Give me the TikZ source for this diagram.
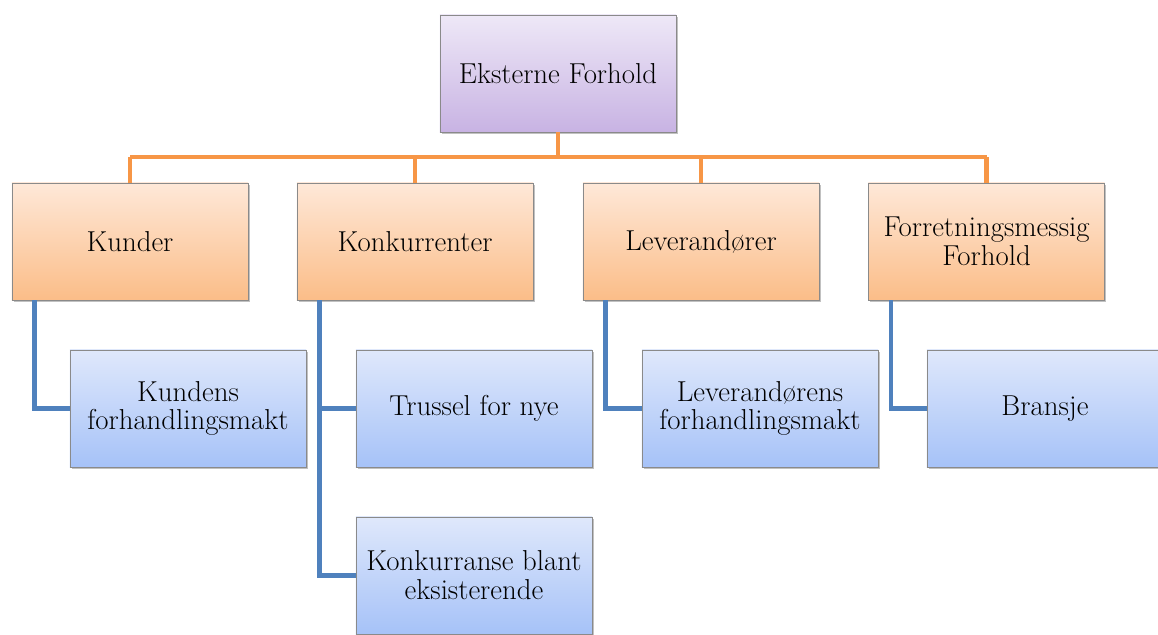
\documentclass[tikz,border=0pt]{standalone}
\usepackage{xcolor}
\usepackage{tikz}
\usetikzlibrary{shapes,positioning,shadows,calc}

\definecolor{lilatop}{HTML}{EEE8F7}
\definecolor{lilabot}{HTML}{C8B3E3}
\definecolor{orangetop}{HTML}{FEE8D8}
\definecolor{orangebot}{HTML}{FBBD88}
\definecolor{bluetop}{HTML}{DFE8FB}
\definecolor{bluebot}{HTML}{A6C2F8}
\definecolor{orangeline}{HTML}{F79646}
\definecolor{blueline}{HTML}{4F81BD}
\definecolor{boxedge}{HTML}{8A8A8A}

\tikzset{
  box/.style={draw=boxedge,line width=0.6pt,rectangle,minimum width=5.9cm,minimum height=2.925cm,
    align=center,font=\fontsize{20.5}{20.5}\selectfont,
    drop shadow={shadow xshift=1.2pt,shadow yshift=-1.2pt,opacity=0.35,fill=black!70}},
  topbox/.style={box,top color=lilatop,bottom color=lilabot},
  mainbox/.style={box,top color=orangetop,bottom color=orangebot},
  subbox/.style={box,top color=bluetop,bottom color=bluebot},
  orangelink/.style={draw=orangeline,line width=3.4pt},
  bluelink/.style={draw=blueline,line width=3.2pt}
}

\begin{document}
\begin{tikzpicture}[x=0.025cm,y=-0.025cm]
\useasboundingbox (0,0) rectangle (1158,634);

% Top
\node[topbox] (ekst) at (558,73.5) {Eksterne Forhold};
\coordinate (bus) at (0,157);

% Level one
\node[mainbox] (kunder) at (130,241.5) {Kunder};
\node[mainbox] (konk) at (415,241.5) {Konkurrenter};
\node[mainbox] (lev) at (701,241.5) {Leverandører};
\node[mainbox] (forr) at (986.5,241.5) {Forretningsmessig\\Forhold};

% Level two
\node[subbox] (kundens) at (188,408.5) {Kundens\\forhandlingsmakt};
\node[subbox] (trussel) at (474,408.5) {Trussel for nye};
\node[subbox] (konkbl) at (474,575.5) {Konkurranse blant\\eksisterende};
\node[subbox] (levens) at (760,408.5) {Leverandørens\\forhandlingsmakt};
\node[subbox] (bransje) at (1045,408.5) {Bransje};

% Orange links
\draw[orangelink] (ekst.south) -- (ekst.south |- bus);
\draw[orangelink] (kunder.north |- bus) -- (forr.north |- bus);
\foreach \n in {kunder,konk,lev,forr}
  \draw[orangelink] (\n.north |- bus) -- (\n.north);

% Blue links
\draw[bluelink] ([xshift=23*0.025cm]kunder.south west) |- (kundens.west);
\draw[bluelink] ([xshift=23*0.025cm]konk.south west) |- (trussel.west);
\draw[bluelink] ([xshift=23*0.025cm]konk.south west) |- (konkbl.west);
\draw[bluelink] ([xshift=23*0.025cm]lev.south west) |- (levens.west);
\draw[bluelink] ([xshift=23*0.025cm]forr.south west) |- (bransje.west);

\end{tikzpicture}
\end{document}
